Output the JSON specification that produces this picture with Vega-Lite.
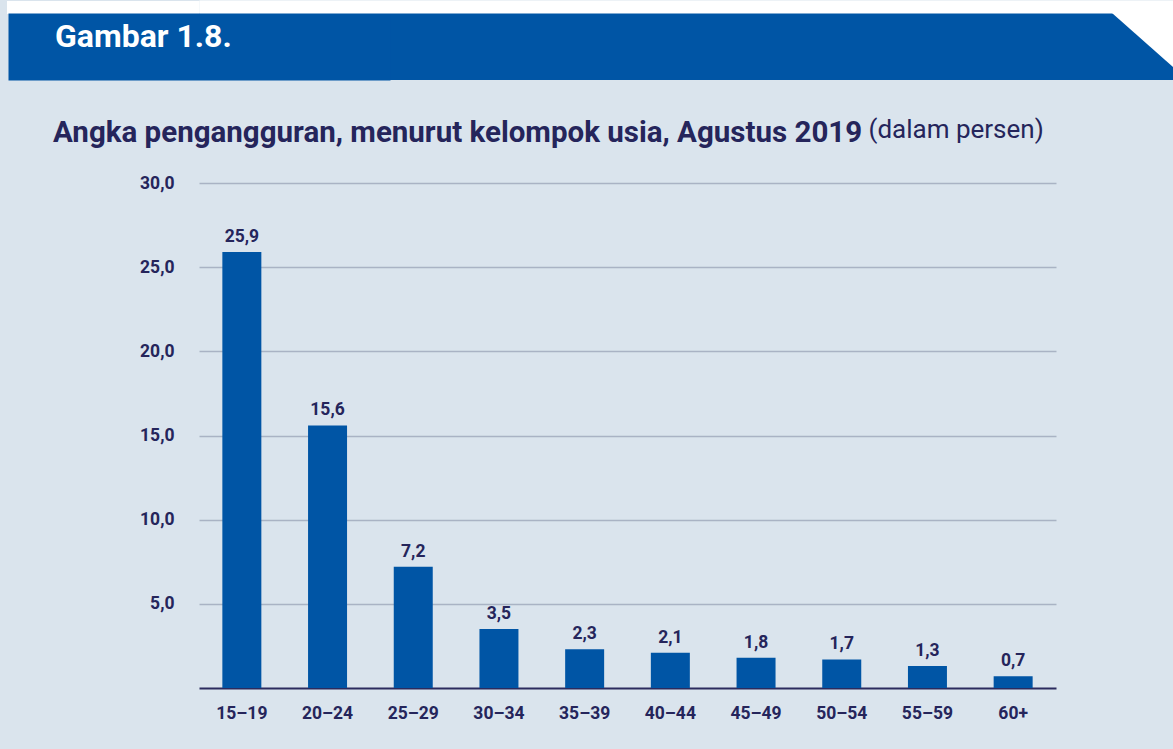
{
  "$schema": "https://vega.github.io/schema/vega-lite/v6.json",
  "background": "#dae4ed",
  "padding": {"left": 0, "top": 0, "right": 0, "bottom": 29},
  "spacing": 36,
  "config": {
    "locale": {"number": {"decimal": ",", "thousands": ".", "grouping": [3], "currency": ["", ""]}},
    "font": "Roboto",
    "view": {"stroke": null}
  },
  "vconcat": [
    {
      "width": 974,
      "height": 67,
      "view": {"fill": "#0055a5", "stroke": null},
      "data": {"values": [{"label": "Gambar 1.8.", "pos": 1}]},
      "title": {
        "text": "Gambar 1.8.",
        "anchor": "start",
        "frame": "group",
        "orient": "top",
        "offset": -78,
        "dx": -144,
        "baseline": "alphabetic",
        "color": "#ffffff",
        "fontSize": 32,
        "fontWeight": "bold",
        "font": "Roboto"
      },
      "mark": {"type": "point", "shape": "M -2 0 L 0 0 L 0 1.77 Z", "filled": true, "color": "#ffffff", "opacity": 1, "size": 3721, "strokeWidth": 0},
      "encoding": {
        "x": {
          "field": "pos",
          "type": "quantitative",
          "scale": {"domain": [0, 1], "nice": false, "zero": false},
          "axis": {
            "orient": "top",
            "title": null,
            "labels": false,
            "ticks": false,
            "grid": false,
            "domain": true,
            "domainColor": "#ffffff",
            "domainWidth": 13,
            "domainCap": "butt",
            "offset": 6.5,
            "zindex": 1
          }
        },
        "y": {
          "field": "pos",
          "type": "quantitative",
          "scale": {"domain": [0, 1], "nice": false, "zero": false},
          "axis": {
            "title": null,
            "values": [1],
            "labels": false,
            "ticks": true,
            "tickColor": "#ffffff",
            "tickSize": 192.5,
            "tickWidth": 13,
            "tickOffset": -6.5,
            "tickCap": "butt",
            "grid": false,
            "domain": true,
            "domainColor": "#0055a5",
            "domainWidth": 382,
            "domainCap": "butt",
            "minExtent": 199,
            "maxExtent": 199,
            "titlePadding": 0
          }
        }
      }
    },
    {
      "width": 857,
      "height": 505,
      "data": {
        "values": [
          {"usia": "15–19", "persen": 25.9},
          {"usia": "20–24", "persen": 15.6},
          {"usia": "25–29", "persen": 7.2},
          {"usia": "30–34", "persen": 3.5},
          {"usia": "35–39", "persen": 2.3},
          {"usia": "40–44", "persen": 2.1},
          {"usia": "45–49", "persen": 1.8},
          {"usia": "50–54", "persen": 1.7},
          {"usia": "55–59", "persen": 1.3},
          {"usia": "60+", "persen": 0.7}
        ]
      },
      "title": {
        "text": "Angka pengangguran, menurut kelompok usia, Agustus 2019",
        "anchor": "start",
        "frame": "group",
        "orient": "top",
        "dx": -146,
        "offset": -55,
        "baseline": "alphabetic",
        "fontSize": 29.5,
        "fontWeight": "bold",
        "color": "#25255b",
        "font": "Roboto"
      },
      "encoding": {
        "x": {
          "field": "usia",
          "type": "nominal",
          "sort": null,
          "scale": {"paddingInner": 0.545, "paddingOuter": 0.2725},
          "axis": {
            "title": "(dalam persen)",
            "titleX": 669,
            "titleY": -551,
            "titleAlign": "left",
            "titleAnchor": null,
            "titleBaseline": "alphabetic",
            "titleFontWeight": "normal",
            "titleFontSize": 26,
            "titleColor": "#25255b",
            "titleFont": "Roboto",
            "labelAngle": 0,
            "labelFontSize": 17.5,
            "labelFontWeight": "bold",
            "labelColor": "#25255b",
            "labelPadding": 16,
            "ticks": false,
            "domainColor": "#2b2b5e",
            "domainWidth": 2,
            "grid": false
          }
        },
        "y": {
          "field": "persen",
          "type": "quantitative",
          "scale": {"domain": [0, 30], "nice": false},
          "axis": {
            "title": null,
            "values": [5, 10, 15, 20, 25, 30],
            "format": ".1f",
            "ticks": false,
            "domain": false,
            "labelPadding": 25,
            "labelFontSize": 17.5,
            "labelFontWeight": "bold",
            "labelColor": "#25255b",
            "gridColor": "#a9b3c4",
            "gridWidth": 1.5,
            "minExtent": 199,
            "maxExtent": 199,
            "titlePadding": 0
          }
        }
      },
      "layer": [
        {"mark": {"type": "bar", "color": "#0055a5"}},
        {
          "mark": {"type": "text", "baseline": "alphabetic", "dy": -10, "fontSize": 17.5, "fontWeight": "bold", "color": "#25255b"},
          "encoding": {"text": {"field": "persen", "type": "quantitative", "format": ".1f"}}
        }
      ]
    }
  ]
}
